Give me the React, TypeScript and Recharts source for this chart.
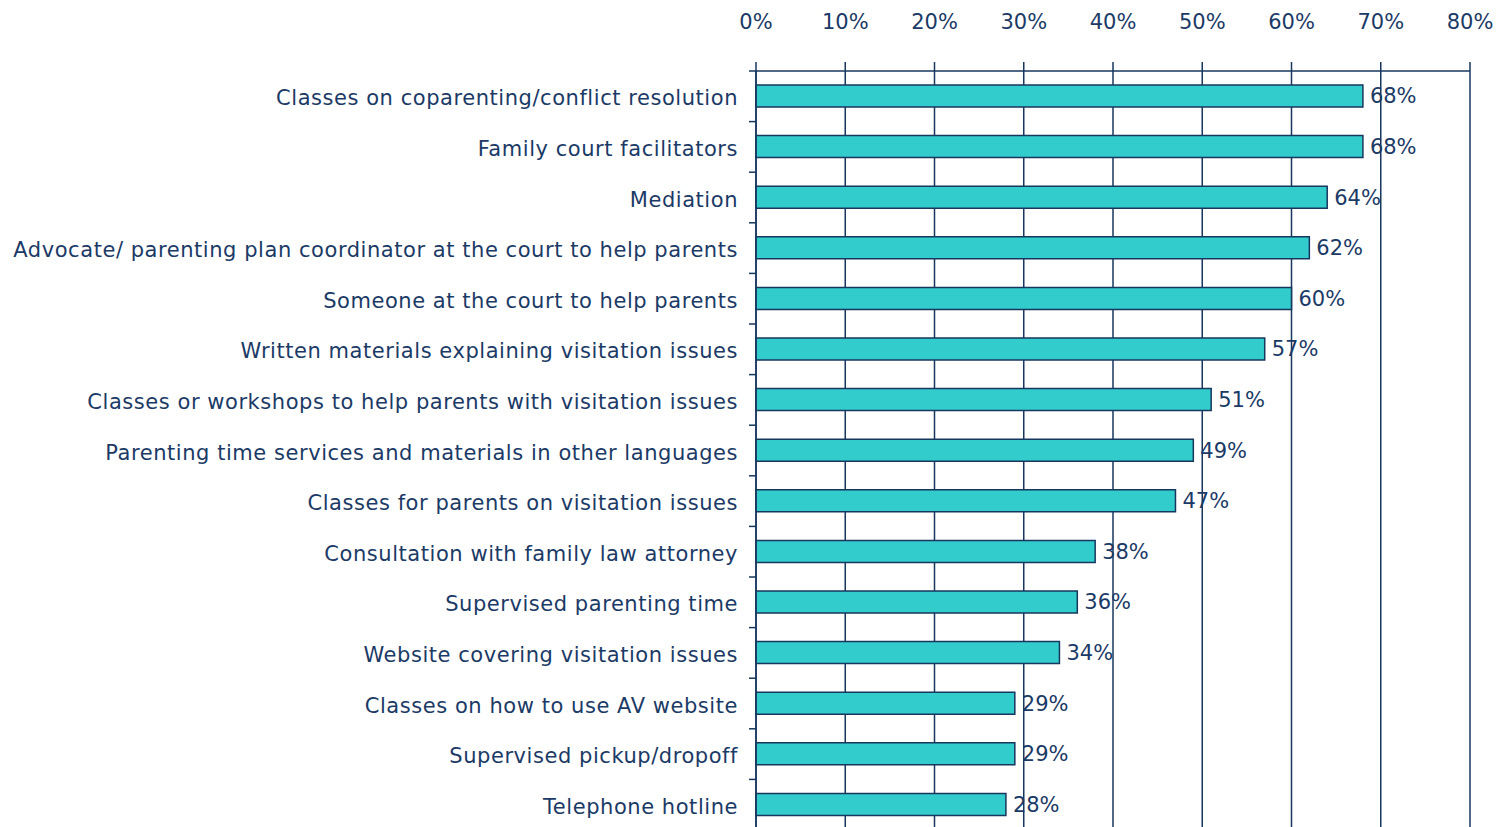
import React from "react";
import { BarChart, Bar, XAxis, YAxis, CartesianGrid, LabelList } from "recharts";

const categories = [
  "Classes on coparenting/conflict resolution",
  "Family court facilitators",
  "Mediation",
  "Advocate/ parenting plan coordinator at the court to help parents",
  "Someone at the court to help parents",
  "Written materials explaining visitation issues",
  "Classes or workshops to help parents with visitation issues",
  "Parenting time services and materials in other languages",
  "Classes for parents on visitation issues",
  "Consultation with family law attorney",
  "Supervised parenting time",
  "Website covering visitation issues",
  "Classes on how to use AV website",
  "Supervised pickup/dropoff",
  "Telephone hotline",
];
const values = [68, 68, 64, 62, 60, 57, 51, 49, 47, 38, 36, 34, 29, 29, 28];
const xTicks = [0, 10, 20, 30, 40, 50, 60, 70, 80];

const NAVY = "#17375E";
const TEXT = "#1B3A66";
const TEAL = "#33CCCC";
const FONT = "'DejaVu Sans', sans-serif";

const W = 1507;
const H = 830;
const TOP = 71;
const BAND = (H - TOP) / categories.length;

const data = categories.map((name, i) => ({ name, value: values[i] }));

function YTick(props: any) {
  const { x, y, payload, index } = props;
  const half = BAND / 2;
  return (
    <g>
      <line x1={x - 1} x2={x + 6} y1={y - half} y2={y - half} stroke={NAVY} strokeWidth={1.5} />
      {index === categories.length - 1 ? (
        <line x1={x - 1} x2={x + 6} y1={y + half} y2={y + half} stroke={NAVY} strokeWidth={1.5} />
      ) : null}
      <text x={x - 12} y={y} dy={9} textAnchor="end" fill={TEXT} fontSize={21} fontFamily={FONT} letterSpacing={0.55}>
        {payload.value}
      </text>
    </g>
  );
}

function XTick(props: any) {
  const { x, payload } = props;
  return (
    <g>
      <line x1={x} x2={x} y1={TOP - 9} y2={TOP} stroke={NAVY} strokeWidth={1.5} />
      <text x={x} y={29} textAnchor="middle" fill={TEXT} fontSize={21} fontFamily={FONT}>
        {payload.value}%
      </text>
    </g>
  );
}

export default function App() {
  return (
    <div style={{ width: W, height: H, background: "#fff" }}>
      <style>{`body{margin:0}`}</style>
      <BarChart
        width={W}
        height={H}
        data={data}
        layout="vertical"
        margin={{ top: 0, right: 37, bottom: 0, left: 0 }}
        barCategoryGap={0}
      >
        <CartesianGrid horizontal={false} stroke={NAVY} strokeWidth={1.5} strokeDasharray="" />
        <XAxis
          type="number"
          orientation="top"
          domain={[0, 80]}
          ticks={xTicks}
          height={TOP}
          tickLine={false}
          axisLine={{ stroke: NAVY, strokeWidth: 1.5 }}
          tick={<XTick />}
          interval={0}
        />
        <YAxis
          type="category"
          dataKey="name"
          width={756}
          tickLine={false}
          tickMargin={0}
          axisLine={{ stroke: NAVY, strokeWidth: 1.5 }}
          tick={<YTick />}
          interval={0}
        />
        <Bar dataKey="value" fill={TEAL} stroke={NAVY} strokeWidth={1.5} barSize={22} isAnimationActive={false}>
          <LabelList
            dataKey="value"
            position="right"
            offset={7}
            formatter={(v: any) => `${v}%`}
            fill={TEXT}
            fontSize={21}
            fontFamily={FONT}
          />
        </Bar>
      </BarChart>
    </div>
  );
}
